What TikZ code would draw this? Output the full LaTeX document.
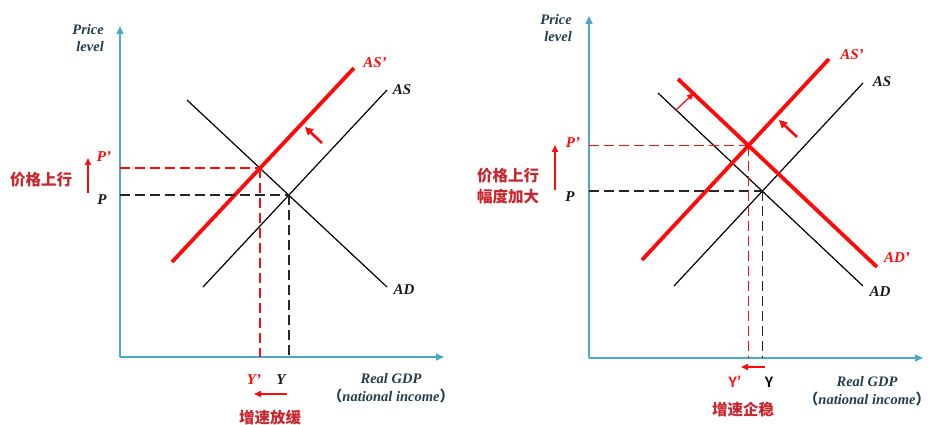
\documentclass[tikz,border=0pt]{standalone}
\usepackage{fontspec}
\setmainfont{Liberation Serif}
\newfontfamily\cjk{Noto Sans CJK SC}
\newfontfamily\carl{Carlito}
\usetikzlibrary{arrows.meta}
\definecolor{axisblue}{HTML}{4BA8C8}
\definecolor{slate}{HTML}{233D4B}
\definecolor{dred}{HTML}{C8252C}
\definecolor{bred}{HTML}{FF0A0A}
\tikzset{
  axisline/.style={axisblue, line width=1.6pt, -{Triangle[length=8pt,width=7pt]}},
  blackcurve/.style={black, line width=1.2pt},
  redcurve/.style={bred, line width=3.8pt},
  blackdash/.style={black!85, line width=1.5pt, dash pattern=on 10pt off 5pt},
  reddash/.style={bred, line width=1.5pt, dash pattern=on 10pt off 5pt},
  redarrow/.style={bred, line width=1.5pt, -{Triangle[length=7pt,width=6pt]}},
  thickarrow/.style={bred, line width=2.6pt, -{Triangle[length=8pt,width=8pt]}},
  lbl/.style={font=\fontsize{15}{15}\selectfont\bfseries\itshape, inner sep=0pt},
  redlbl/.style={lbl, text=bred},
  blklbl/.style={lbl, text=black!90},
  axlbl/.style={font=\fontsize{14.5}{17.5}\selectfont\bfseries\itshape, text=slate, inner sep=0pt, align=center},
  cn/.style={font=\fontsize{15.5}{21}\selectfont\cjk\bfseries, text=dred, inner sep=0pt, align=center},
  sanslbl/.style={font=\fontsize{16}{16}\selectfont\carl\bfseries, inner sep=0pt},
}
\newcommand{\fwl}{{\cjk （}}
\newcommand{\fwr}{{\cjk ）}}
\begin{document}
\begin{tikzpicture}[x=1pt,y=-1pt]
\useasboundingbox (0,0) rectangle (930,425);
% ================= LEFT PANEL =================
\coordinate (LO) at (120,357);
\coordinate (LYt) at (120,26);
\coordinate (LXt) at (444,357);
\draw[axisline] (LO) -- (LYt);
\draw[axisline] (LO) -- (LXt);
\node[axlbl, align=right, anchor=east] (Lpl) at (104,38) {Price\\level};
% curves
\coordinate (LADa) at (187,100);
\coordinate (LADb) at (387,287);
\coordinate (LASa) at (203,287);
\coordinate (LASb) at (387,90);
\coordinate (LASpa) at (172,262);
\coordinate (LASpb) at (354,68);
\draw[blackcurve] (LADa) -- (LADb);
\draw[blackcurve] (LASa) -- (LASb);
\draw[redcurve] (LASpa) -- (LASpb);
\coordinate (LE) at (intersection of LADa--LADb and LASa--LASb);
\coordinate (LEp) at (intersection of LADa--LADb and LASpa--LASpb);
% dashed guides
\draw[blackdash] (LO |- LE) -- (LE);
\draw[blackdash] (LE) -- (LE |- LO);
\draw[reddash] (LO |- LEp) -- (LEp);
\draw[reddash] (LEp) -- (LEp |- LO);
% labels
\node[redlbl] (LASpl) at (375,63) {AS’};
\node[blklbl] (LASl) at (402,90) {AS};
\node[blklbl] (LADl) at (404,290) {AD};
\node[redlbl] (LPp) at (104,157) {P’};
\node[blklbl] (LP) at (102,200) {P};
\node[redlbl] (LYp) at (254,380) {Y’};
\node[blklbl] (LY) at (281,380) {Y};
\node[axlbl] (LGDP) at (391,388) {Real GDP\\\fwl national income\fwr};
\node[cn] (Lcn1) at (41,180) {价格上行};
\node[cn] (Lcn2) at (270,418) {增速放缓};
% arrows
\coordinate (LPa1) at (88,193);
\coordinate (LPa2) at (88,158);
\draw[redarrow] (LPa1) -- (LPa2);
\coordinate (LYa1) at (287,394);
\coordinate (LYa2) at (254,394);
\draw[redarrow] (LYa1) -- (LYa2);
\coordinate (LSa1) at (322,143);
\coordinate (LSa2) at (305,127);
\draw[thickarrow] (LSa1) -- (LSa2);
% ================= RIGHT PANEL =================
\coordinate (RO) at (589,358);
\coordinate (RYt) at (589,16);
\coordinate (RXt) at (923,358);
\draw[axisline] (RO) -- (RYt);
\draw[axisline] (RO) -- (RXt);
\node[axlbl, align=right, anchor=east] (Rpl) at (572,28) {Price\\level};
\coordinate (RADa) at (658,93);
\coordinate (RADb) at (863,286);
\coordinate (RASa) at (674,286);
\coordinate (RASb) at (863,83);
\coordinate (RASpa) at (642,260);
\coordinate (RASpb) at (829,59);
\coordinate (RADpa) at (678,79);
\coordinate (RADpb) at (877,267);
\draw[blackcurve] (RADa) -- (RADb);
\draw[blackcurve] (RASa) -- (RASb);
\draw[redcurve] (RASpa) -- (RASpb);
\draw[redcurve] (RADpa) -- (RADpb);
\coordinate (RE) at (intersection of RADa--RADb and RASa--RASb);
\coordinate (REp) at (intersection of RADpa--RADpb and RASpa--RASpb);
\draw[blackdash] (RO |- RE) -- (RE);
\draw[blackdash] (RE) -- (RE |- RO);
\draw[reddash] (RO |- REp) -- (REp);
\draw[reddash] (REp) -- (REp |- RO);
\node[redlbl] (RASpl) at (852,55) {AS’};
\node[blklbl] (RASl) at (882,82) {AS};
\node[redlbl] (RADpl) at (897,258) {AD’};
\node[blklbl] (RADl) at (880,292) {AD};
\node[redlbl] (RPp) at (573,143) {P’};
\node[blklbl] (RP) at (570,197) {P};
\node[sanslbl, text=bred] (RYp) at (735,382) {Y’};
\node[sanslbl, text=black] (RY) at (769,382) {Y};
\node[axlbl] (RGDP) at (867,391) {Real GDP\\\fwl national income\fwr};
\node[cn] (Rcn1) at (508,186) {价格上行\\幅度加大};
\node[cn] (Rcn2) at (743,410) {增速企稳};
\coordinate (RPa1) at (555,190);
\coordinate (RPa2) at (555,145);
\draw[redarrow] (RPa1) -- (RPa2);
\coordinate (RYa1) at (765,367);
\coordinate (RYa2) at (741,367);
\draw[redarrow] (RYa1) -- (RYa2);
\coordinate (RSa1) at (797,137);
\coordinate (RSa2) at (779,120);
\draw[thickarrow] (RSa1) -- (RSa2);
\coordinate (RDa1) at (676,110);
\coordinate (RDa2) at (694,93);
\draw[redarrow, line width=1.2pt] (RDa1) -- (RDa2);
\end{tikzpicture}
\end{document}
